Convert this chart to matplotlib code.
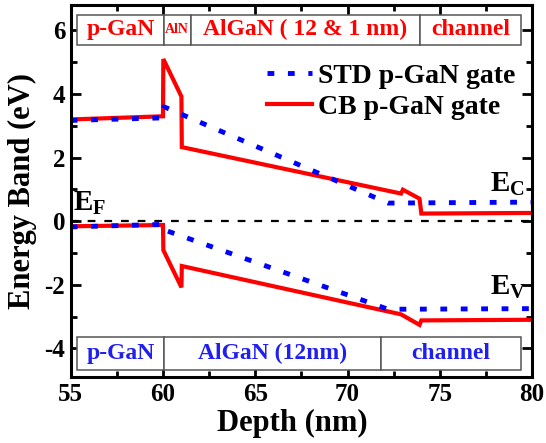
import matplotlib
matplotlib.use('Agg')
import matplotlib.pyplot as plt
from matplotlib.patches import Rectangle
from matplotlib.ticker import MultipleLocator

# Band edges (depth in nm, energy in eV)
std_ec_x = [55, 60, 60.05, 72.2, 80]
std_ec_y = [3.17, 3.25, 3.6, 0.57, 0.6]
std_ev_x = [55, 60, 60.05, 72.2, 80]
std_ev_y = [-0.18, -0.1, -0.27, -2.77, -2.75]

cb_ec_x = [55, 60, 60.02, 61.0, 61.02, 72.9, 73.0, 73.9, 74.0, 80]
cb_ec_y = [3.2, 3.3, 5.1, 3.92, 2.33, 0.87, 0.99, 0.71, 0.24, 0.26]
cb_ev_x = [55, 60, 60.02, 61.0, 61.02, 72.9, 73.9, 74.0, 80]
cb_ev_y = [-0.16, -0.12, -0.91, -2.08, -1.41, -2.93, -3.26, -3.12, -3.10]

# Layer stacks drawn as labelled boxes
cb_layers = ['p-GaN', 'AlN', 'AlGaN ( 12 & 1 nm)', 'channel']
cb_bounds = [55.36, 60.05, 61.5, 73.9, 79.4]
std_layers = ['p-GaN', 'AlGaN (12nm)', 'channel']
std_bounds = [55.36, 60.07, 71.8, 79.4]

serif = 'Liberation Serif'
plt.rcParams['font.family'] = serif
plt.rcParams['font.weight'] = 'bold'
plt.rcParams['axes.unicode_minus'] = False
plt.rcParams['mathtext.fontset'] = 'custom'
plt.rcParams['mathtext.rm'] = serif + ':bold'
plt.rcParams['mathtext.bf'] = serif + ':bold'
plt.rcParams['mathtext.it'] = serif + ':bold'

fig = plt.figure(figsize=(5.46, 4.43), dpi=100)
ax = fig.add_axes([0.1295, 0.149, 0.845, 0.8397])

ax.axhline(0, color='black', lw=1.6, ls=(0, (3.5, 4)))

ax.plot(cb_ec_x, cb_ec_y, color='red', lw=3, solid_joinstyle='miter',
        label='CB p-GaN gate')
ax.plot(cb_ev_x, cb_ev_y, color='red', lw=3, solid_joinstyle='miter')
ax.plot(std_ec_x, std_ec_y, color='blue', lw=3.5, ls=(0, (1.4, 2.8)),
        label='STD p-GaN gate')
ax.plot(std_ev_x, std_ev_y, color='blue', lw=3.5, ls=(0, (1.4, 2.8)))

# layer boxes
def layer_boxes(bounds, names, y0, y1, color, sizes):
    for i, name in enumerate(names):
        ax.add_patch(Rectangle((bounds[i], y0), bounds[i + 1] - bounds[i], y1 - y0,
                               facecolor='white', edgecolor='#555555', lw=1.1, zorder=3))
        ax.text((bounds[i] + bounds[i + 1]) / 2, (y0 + y1) / 2, name, color=color,
                fontsize=sizes[i], fontweight='bold', ha='center', va='center', zorder=4)

layer_boxes(cb_bounds, cb_layers, 5.55, 6.49, 'red', [17, 10, 17, 17])
layer_boxes(std_bounds, std_layers, -4.67, -3.63, '#2020ee', [17, 17, 17])

ax.text(77.7, 0.91, r'$\mathbf{E_C}$', fontsize=21)
ax.text(77.7, -2.32, r'$\mathbf{E_V}$', fontsize=21)
ax.text(55.14, 0.32, r'$\mathbf{E_F}$', fontsize=21)

handles, labels = ax.get_legend_handles_labels()
ax.legend(handles[::-1], labels[::-1], loc='center left', bbox_to_anchor=(0.425, 0.767),
          frameon=False, fontsize=20, handlelength=1.62, handletextpad=0.23,
          labelspacing=0.2, borderpad=0, borderaxespad=0)

ax.set_xlim(55, 80)
ax.set_ylim(-4.9, 6.8)
ax.xaxis.set_major_locator(MultipleLocator(5))
ax.xaxis.set_minor_locator(MultipleLocator(2.5))
ax.yaxis.set_major_locator(MultipleLocator(2))
ax.yaxis.set_minor_locator(MultipleLocator(1))
ax.tick_params(which='both', direction='in', top=True, right=True, width=2,
               labelsize=18, pad=4)
ax.tick_params(which='major', length=7)
ax.tick_params(which='minor', length=4.5)
for sp in ax.spines.values():
    sp.set_linewidth(2.2)

ax.set_xlabel('Depth (nm)', fontsize=22, fontweight='bold')
ax.set_ylabel('Energy Band (eV)', fontsize=22, fontweight='bold')
ax.xaxis.set_label_coords(0.481, -0.085)
ax.yaxis.set_label_coords(-0.073, 0.5)

fig.savefig('out.png', dpi=100)
